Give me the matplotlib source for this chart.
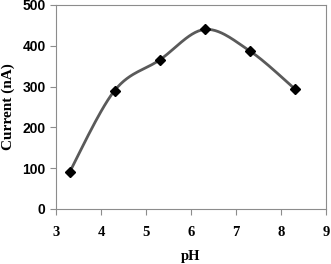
import numpy as np
import matplotlib.pyplot as plt

# pH vs current data
ph = [3.3, 4.3, 5.3, 6.3, 7.3, 8.3]
current = [90, 290, 365, 440, 388, 295]
xticks = [3, 4, 5, 6, 7, 8, 9]
yticks = [0, 100, 200, 300, 400, 500]


def smooth(xs, ys, n=30):
    # excel-like bezier smoothing, done in normalised coords
    px = (np.array(xs) - 3) / 6.0 * 270
    py = np.array(ys) / 500.0 * 204
    pts = np.column_stack([px, py])
    out = []
    for i in range(len(pts) - 1):
        p0 = pts[max(i - 1, 0)]
        p1 = pts[i]
        p2 = pts[i + 1]
        p3 = pts[min(i + 2, len(pts) - 1)]
        c1 = p1 + (p2 - p0) / 6.0
        c2 = p2 - (p3 - p1) / 6.0
        t = np.linspace(0, 1, n)[:, None]
        seg = ((1 - t) ** 3) * p1 + 3 * ((1 - t) ** 2) * t * c1 + 3 * (1 - t) * t ** 2 * c2 + t ** 3 * p2
        out.append(seg)
    out = np.vstack(out)
    return out[:, 0] / 270 * 6 + 3, out[:, 1] / 204 * 500


fig = plt.figure(figsize=(3.31, 2.64), dpi=100)
ax = fig.add_axes([56 / 331, 1 - 209 / 264, 270 / 331, 204 / 264])

sx, sy = smooth(ph, current)
ax.plot(sx, sy, color='#5a5a5a', lw=2, zorder=2)
ax.plot(ph, current, 'D', color='black', ms=5, zorder=3)

ax.set_xlim(3, 9)
ax.set_ylim(0, 500)
ax.set_xticks(xticks)
ax.set_yticks(yticks)
for s in ax.spines.values():
    s.set_color('#8c8c8c')
ax.tick_params(direction='out', length=4, color='#8c8c8c')
ax.set_xticklabels([str(v) for v in xticks], family='Liberation Serif', weight='bold', fontsize=10.5)
ax.set_yticklabels([str(v) for v in yticks], family='Liberation Sans', weight='bold', fontsize=10)
ax.tick_params(axis='x', pad=8)
ax.set_xlabel('pH', family='Liberation Serif', weight='bold', fontsize=10.5, labelpad=8)
ax.set_ylabel('Current (nA)', family='Liberation Serif', weight='bold', fontsize=11, labelpad=5)

fig.savefig('out.png', dpi=100)
